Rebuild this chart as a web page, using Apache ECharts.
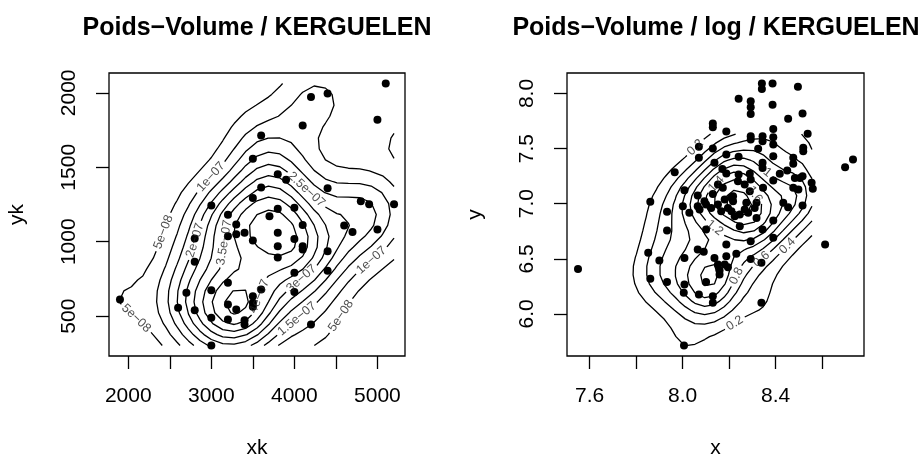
<!DOCTYPE html>
<html><head><meta charset="utf-8">
<script src="https://cdn.jsdelivr.net/npm/echarts@6/dist/echarts.min.js"></script>
<style>html,body{margin:0;padding:0;background:#fff}#c{width:922px;height:461px}</style>
</head><body><div id="c"></div>
<script>
// ---------------- data ----------------
const titles = ['Poids\u2212Volume / KERGUELEN', 'Poids\u2212Volume / log / KERGUELEN'];
const xNames = ['xk', 'x'];
const yNames = ['yk', 'y'];

const leftX = [1900,5100,4200,4400,5000,4100,3600,3500,3800,3900,3600,4400,3500,3000,3200,3800,4000,3700,4800,4900,5200,3300,4600,4700,5000,3200,3300,3400,3800,4100,4000,2800,3500,3800,4100,4100,4400,3800,2800,4000,4400,3200,3000,3600,4000,2700,3500,3500,3500,3200,3300,2600,2800,3000,3200,3400,3400,4200,3000];
const leftY = [612,2063,1973,1996,1819,1781,1713,1557,1454,1416,1364,1360,1293,1243,1181,1221,1228,1172,1272,1252,1252,1116,1109,1066,1082,1037,1051,1060,1060,1113,1019,1022,1008,970,970,948,937,894,865,791,805,724,675,679,663,657,634,590,563,578,545,556,540,489,478,473,444,444,303];

const rightX = [8.341,8.341,8.387,8.496,8.241,8.293,8.293,8.293,8.387,8.130,8.130,8.516,8.454,8.188,8.390,8.538,8.293,8.293,8.344,8.344,8.390,8.390,8.070,8.130,8.519,8.519,8.325,8.188,8.241,8.390,8.476,8.476,8.070,8.137,8.344,8.344,7.966,8.171,8.188,8.241,8.289,8.418,8.450,8.483,8.505,8.516,8.555,8.560,8.390,8.476,8.498,8.346,8.238,8.267,8.152,8.173,8.008,8.065,8.130,8.217,8.289,8.293,
 7.861,7.933,8.001,8.029,8.065,8.073,8.094,8.101,8.123,8.152,8.166,8.195,8.181,8.210,8.217,8.210,8.224,8.246,8.267,8.282,8.310,8.318,8.274,8.318,8.433,8.454,8.516,8.390,8.344,8.390,7.933,8.101,8.246,8.188,8.293,8.065,8.091,7.852,7.900,8.008,8.137,8.188,8.231,8.293,8.339,8.152,8.181,8.195,8.159,8.159,8.101,7.861,7.933,8.008,8.005,8.070,8.130,8.130,8.339,8.006,7.550,8.613,8.699,8.733];
const rightY = [8.091,8.042,8.091,8.061,7.952,7.930,7.876,7.815,7.897,7.728,7.694,7.818,7.770,7.655,7.679,7.634,7.613,7.582,7.613,7.567,7.604,7.537,7.516,7.501,7.507,7.477,7.498,7.446,7.425,7.431,7.416,7.362,7.416,7.371,7.371,7.325,7.286,7.316,7.274,7.265,7.271,7.271,7.301,7.234,7.234,7.250,7.189,7.135,7.210,7.144,7.129,7.144,7.204,7.174,7.174,7.144,7.123,7.074,7.089,7.068,7.113,7.219,
 7.017,6.926,6.977,6.917,6.977,6.947,7.023,6.992,6.962,6.992,6.932,6.962,7.038,7.053,7.023,6.932,6.887,6.902,6.947,6.917,6.962,6.871,7.008,7.008,7.008,6.968,6.983,6.847,6.766,6.690,6.756,6.766,6.796,6.629,6.660,6.584,6.563,6.554,6.484,6.508,6.508,6.523,6.545,6.499,6.463,6.448,6.448,6.424,6.393,6.357,6.290,6.318,6.290,6.266,6.191,6.176,6.160,6.100,6.100,5.713,6.408,6.629,7.331,7.401];

const leftXTicks = [2000,2500,3000,3500,4000,4500,5000];
const leftXLabels = [2000,3000,4000,5000];
const leftYTicks = [500,1000,1500,2000];
const rightXTicks = [7.6,7.8,8.0,8.2,8.4,8.6];
const rightXLabels = [7.6,8.0,8.4];
const rightYTicks = [6.0,6.5,7.0,7.5,8.0];

// ---------------- layout / style ----------------
const FONT = '"Liberation Sans", Arial, Helvetica, sans-serif';
const grids = [
  {left:109, top:73, width:296, height:283},
  {left:567, top:73, width:297, height:283}
];
const LW = 1.3;

function lim(a){ const mn=Math.min(...a), mx=Math.max(...a), d=mx-mn; return [mn-0.04*d, mx+0.04*d]; }

function xAxisCfg(g, l, ticks, labels, name, fmt){
  return {type:'value', gridIndex:g, min:l[0], max:l[1],
    axisLine:{show:false}, splitLine:{show:false},
    axisTick:{show:true, inside:false, length:13, customValues:ticks, lineStyle:{color:'#000', width:LW}},
    axisLabel:{show:true, customValues:labels, margin:30, fontSize:21, fontFamily:FONT, color:'#000', formatter:fmt, hideOverlap:false},
    name:name, nameLocation:'middle', nameGap:92,
    nameTextStyle:{fontSize:21, fontFamily:FONT, color:'#000', verticalAlign:'middle', align:'center'}};
}
function yAxisCfg(g, l, ticks, name, fmt){
  return {type:'value', gridIndex:g, min:l[0], max:l[1],
    axisLine:{show:false}, splitLine:{show:false},
    axisTick:{show:true, inside:false, length:13, customValues:ticks, lineStyle:{color:'#000', width:LW}},
    axisLabel:{show:true, customValues:ticks, margin:29, rotate:90, fontSize:21, fontFamily:FONT, color:'#000', formatter:fmt, hideOverlap:false},
    name:name, nameLocation:'middle', nameGap:92, nameRotate:90,
    nameTextStyle:{fontSize:21, fontFamily:FONT, color:'#000', verticalAlign:'middle', align:'center'}};
}
const fmtInt = v => String(Math.round(v));
const fmt1 = v => v.toFixed(1);

const chart = echarts.init(document.getElementById('c'), null, {renderer:'canvas'});

const pointSeries = [
  {type:'scatter', xAxisIndex:0, yAxisIndex:0, symbolSize:8, itemStyle:{color:'#000', opacity:1}, data:leftX.map((v,i)=>[v,leftY[i]]), z:3, silent:true},
  {type:'scatter', xAxisIndex:1, yAxisIndex:1, symbolSize:8, itemStyle:{color:'#000', opacity:1}, data:rightX.map((v,i)=>[v,rightY[i]]), z:3, silent:true}
];

const baseOption = {
  animation:false,
  backgroundColor:'#fff',
  title:[
    {text:titles[0], left:257, top:16, textAlign:'center', padding:0, textStyle:{fontSize:25, fontWeight:'bold', fontFamily:FONT, color:'#000'}},
    {text:titles[1], left:716, top:16, textAlign:'center', padding:0, textStyle:{fontSize:25, fontWeight:'bold', fontFamily:FONT, color:'#000'}}
  ],
  grid: grids.map(g => Object.assign({show:true, borderColor:'#000', borderWidth:LW, backgroundColor:'transparent', containLabel:false, outerBoundsMode:'none'}, g)),
  xAxis:[
    xAxisCfg(0, lim(leftX), leftXTicks, leftXLabels, xNames[0], fmtInt),
    xAxisCfg(1, lim(rightX), rightXTicks, rightXLabels, xNames[1], fmt1)
  ],
  yAxis:[
    yAxisCfg(0, lim(leftY), leftYTicks, yNames[0], fmtInt),
    yAxisCfg(1, lim(rightY), rightYTicks, yNames[1], fmt1)
  ],
  series: pointSeries
};
chart.setOption(baseOption);

// ---------------- 2D kernel density (as MASS::kde2d) ----------------
function quantile(a, p){ const s=[...a].sort((u,v)=>u-v); const h=(s.length-1)*p; const lo=Math.floor(h), hi=Math.ceil(h); return s[lo]+(h-lo)*(s[hi]-s[lo]); }
function bwNrd(a){ const n=a.length; const m=a.reduce((s,v)=>s+v,0)/n; const v=a.reduce((s,x)=>s+(x-m)*(x-m),0)/(n-1);
  const iqr=(quantile(a,0.75)-quantile(a,0.25))/1.34; return 4*1.06*Math.min(Math.sqrt(v), iqr)*Math.pow(n,-0.2); }
function kde2d(x, y, n){
  const nx=x.length, hx=bwNrd(x)/4, hy=bwNrd(y)/4;
  const x0=Math.min(...x), x1=Math.max(...x), y0=Math.min(...y), y1=Math.max(...y);
  const gx=[], gy=[];
  for(let i=0;i<n;i++){ gx.push(x0+(x1-x0)*i/(n-1)); gy.push(y0+(y1-y0)*i/(n-1)); }
  const phi=t=>Math.exp(-0.5*t*t)/Math.sqrt(2*Math.PI);
  const ax=gx.map(g=>x.map(v=>phi((g-v)/hx)));
  const ay=gy.map(g=>y.map(v=>phi((g-v)/hy)));
  const z=gx.map((_,i)=>gy.map((_,j)=>{ let s=0; for(let k=0;k<nx;k++) s+=ax[i][k]*ay[j][k]; return s/(nx*hx*hy); }));
  return {gx, gy, z};
}
function prettyUnit(lo, hi, n){
  const cell=(hi-lo)/n; const base=Math.pow(10, Math.floor(Math.log10(cell)));
  let unit=base; const h=1.5, h5=0.5+1.5*h;
  if(2*base-cell < h*(cell-unit)){ unit=2*base; if(5*base-cell < h5*(cell-unit)){ unit=5*base; if(10*base-cell < h*(cell-unit)) unit=10*base; } }
  return unit;
}
// ---------------- marching squares ----------------
function contourLines(gx, gy, z, lev){
  const n=gx.length, m=gy.length; const pts={}, adj={}, segs=[];
  function edgePt(e,i,j){
    let i1,j1,i2,j2,k;
    if(e===0){i1=i;j1=j;i2=i+1;j2=j;k='h'+i+'_'+j;}
    else if(e===1){i1=i+1;j1=j;i2=i+1;j2=j+1;k='v'+(i+1)+'_'+j;}
    else if(e===2){i1=i;j1=j+1;i2=i+1;j2=j+1;k='h'+i+'_'+(j+1);}
    else {i1=i;j1=j;i2=i;j2=j+1;k='v'+i+'_'+j;}
    if(!pts[k]){ const z1=z[i1][j1], z2=z[i2][j2]; const t=(lev-z1)/(z2-z1); pts[k]=[gx[i1]+(gx[i2]-gx[i1])*t, gy[j1]+(gy[j2]-gy[j1])*t]; }
    return k;
  }
  function addSeg(e1,e2,i,j){ const a=edgePt(e1,i,j), b=edgePt(e2,i,j); const id=segs.length; segs.push([a,b]); (adj[a]=adj[a]||[]).push(id); (adj[b]=adj[b]||[]).push(id); }
  for(let i=0;i<n-1;i++) for(let j=0;j<m-1;j++){
    const a=z[i][j]>lev, b=z[i+1][j]>lev, c=z[i+1][j+1]>lev, d=z[i][j+1]>lev;
    const code=(a?1:0)|(b?2:0)|(c?4:0)|(d?8:0);
    if(code===0||code===15) continue;
    if(code===5||code===10){
      const center=(z[i][j]+z[i+1][j]+z[i+1][j+1]+z[i][j+1])/4>lev;
      if(code===5){ if(center){addSeg(0,1,i,j);addSeg(2,3,i,j);} else {addSeg(0,3,i,j);addSeg(1,2,i,j);} }
      else { if(center){addSeg(3,0,i,j);addSeg(1,2,i,j);} else {addSeg(0,1,i,j);addSeg(2,3,i,j);} }
      continue;
    }
    const es=[]; if(a!==b) es.push(0); if(b!==c) es.push(1); if(c!==d) es.push(2); if(d!==a) es.push(3);
    addSeg(es[0],es[1],i,j);
  }
  const used=new Array(segs.length).fill(false); const lines=[];
  function walk(startKey, segId){
    const keys=[startKey]; let cur=startKey, s=segId;
    while(s!==undefined && !used[s]){ used[s]=true; const [p,q]=segs[s]; const nxt=(p===cur)?q:p; keys.push(nxt); cur=nxt; s=(adj[cur]||[]).filter(t=>!used[t])[0]; }
    return keys;
  }
  for(const k in adj){ if(adj[k].length===1 && !used[adj[k][0]]){ const keys=walk(k, adj[k][0]); lines.push({pts:keys.map(q=>pts[q]), closed:false}); } }
  for(let s=0;s<segs.length;s++) if(!used[s]){ const keys=walk(segs[s][0], s); lines.push({pts:keys.map(q=>pts[q]), closed:keys[0]===keys[keys.length-1]}); }
  return lines;
}
// ---------------- labels ----------------
const LABEL_FS = 12.5;
const mctx = document.createElement('canvas').getContext('2d');
mctx.font = LABEL_FS+'px "Liberation Sans", Arial, sans-serif';
function fmtLevel(v){
  v = Number(v.toPrecision(10));
  if(Math.abs(v) < 1e-4){
    return v.toExponential().replace(/e([+-])(\d+)/, (m,s,d)=>'e'+(s==='-'?'\u2212':'+')+(d.length<2?'0'+d:d));
  }
  return String(v);
}
function interpAt(P, D, cum, s){
  let i=0; while(i<cum.length-2 && cum[i+1]<s) i++;
  const seg=cum[i+1]-cum[i]; const t=seg>0?Math.min(1,Math.max(0,(s-cum[i])/seg)):0;
  return {i, px:[P[i][0]+(P[i+1][0]-P[i][0])*t, P[i][1]+(P[i+1][1]-P[i][1])*t],
          d:[D[i][0]+(D[i+1][0]-D[i][0])*t, D[i][1]+(D[i+1][1]-D[i][1])*t]};
}
function subPath(P, D, cum, a, b){
  const A=interpAt(P,D,cum,a), B=interpAt(P,D,cum,b);
  const out=[A.d]; for(let k=A.i+1;k<=B.i;k++) out.push(D[k]); out.push(B.d); return out;
}
function buildPanel(g, xs, ys){
  const {gx, gy, z} = kde2d(xs, ys, 25);
  let zmin=Infinity, zmax=-Infinity; z.forEach(r=>r.forEach(v=>{ if(v<zmin) zmin=v; if(v>zmax) zmax=v; }));
  const unit = prettyUnit(zmin, zmax, 10);
  const G = grids[g]; const rect={x0:G.left, y0:G.top, x1:G.left+G.width, y1:G.top+G.height};
  const pieces=[], labels=[], placed=[];
  for(let k=Math.max(1,Math.ceil(zmin/unit)); k*unit<=zmax; k++){
    const lev=k*unit; const text=fmtLevel(lev);
    const tw=mctx.measureText(text).width; const w=tw+6; const th=LABEL_FS;
    contourLines(gx, gy, z, lev).forEach(line=>{
      let D=line.pts; if(D.length<2) return;
      let P=D.map(p=>chart.convertToPixel({gridIndex:g}, p));
      const closed=line.closed;
      const cum0=[0]; for(let i=1;i<P.length;i++) cum0.push(cum0[i-1]+Math.hypot(P[i][0]-P[i-1][0], P[i][1]-P[i-1][1]));
      const L=cum0[cum0.length-1];
      if(L < w+8){ pieces.push(D); return; }
      let PD=P, DD=D, cum=cum0;
      if(closed){ PD=P.concat(P.slice(1)); DD=D.concat(D.slice(1)); cum=[0]; for(let i=1;i<PD.length;i++) cum.push(cum[i-1]+Math.hypot(PD[i][0]-PD[i-1][0], PD[i][1]-PD[i-1][1])); }
      const sMax = closed ? L : L-w;
      let best=null;
      for(let s=(closed?0:2); s<=sMax-(closed?0:2); s+=1.5){
        const A=interpAt(PD,DD,cum,s), B=interpAt(PD,DD,cum,s+w);
        const dx=B.px[0]-A.px[0], dy=B.px[1]-A.px[1]; const cl=Math.hypot(dx,dy); if(cl<1e-6) continue;
        let dev=0; for(let q=A.i+1;q<=B.i;q++){ const vx=PD[q][0]-A.px[0], vy=PD[q][1]-A.px[1]; dev=Math.max(dev, Math.abs(vx*dy-vy*dx)/cl); }
        dev += (w-cl)*0.5;
        const mx=(A.px[0]+B.px[0])/2, my=(A.px[1]+B.px[1])/2;
        const c=Math.abs(dx)/cl, sn=Math.abs(dy)/cl;
        const hw=(w*c+th*sn)/2, hh=(w*sn+th*c)/2;
        const box={x0:mx-hw, y0:my-hh, x1:mx+hw, y1:my+hh};
        if(box.x0<rect.x0+1||box.x1>rect.x1-1||box.y0<rect.y0+1||box.y1>rect.y1-1) continue;
        if(placed.some(b=>!(box.x1<b.x0||box.x0>b.x1||box.y1<b.y0||box.y0>b.y1))) continue;
        if(!best || dev<best.dev) best={dev, s, mx, my, dx, dy, box};
      }
      if(!best || best.dev>5){ pieces.push(D); return; }
      placed.push(best.box);
      if(closed){ pieces.push(subPath(PD,DD,cum,best.s+w,best.s+L)); }
      else { if(best.s>0.5) pieces.push(subPath(PD,DD,cum,0,best.s)); if(L-(best.s+w)>0.5) pieces.push(subPath(PD,DD,cum,best.s+w,L)); }
      let ang=Math.atan2(-best.dy, best.dx)*180/Math.PI; if(ang>90) ang-=180; if(ang<=-90) ang+=180;
      labels.push({value:chart.convertFromPixel({gridIndex:g}, [best.mx, best.my]), text, rot:ang});
    });
  }
  const series = pieces.map(pc=>({type:'line', xAxisIndex:g, yAxisIndex:g, data:pc, showSymbol:false, symbol:'none', silent:true, z:2,
      lineStyle:{color:'#000', width:LW}}));
  series.push({type:'scatter', xAxisIndex:g, yAxisIndex:g, symbolSize:0, silent:true, z:4,
    data:labels.map(l=>({value:l.value, label:{show:true, formatter:l.text, rotate:l.rot}})),
    label:{show:true, position:'inside', fontSize:LABEL_FS, fontFamily:FONT, color:'#222'}});
  return series;
}
// the right-hand contours are the density of the logged KERGUELEN sample
const logX = leftX.map(Math.log), logY = leftY.map(Math.log);
const contourSeries = [].concat(buildPanel(0, leftX, leftY), buildPanel(1, logX, logY));
const full = Object.assign({}, baseOption, {series: pointSeries.concat(contourSeries)});
chart.setOption(full, true);
</script></body></html>
